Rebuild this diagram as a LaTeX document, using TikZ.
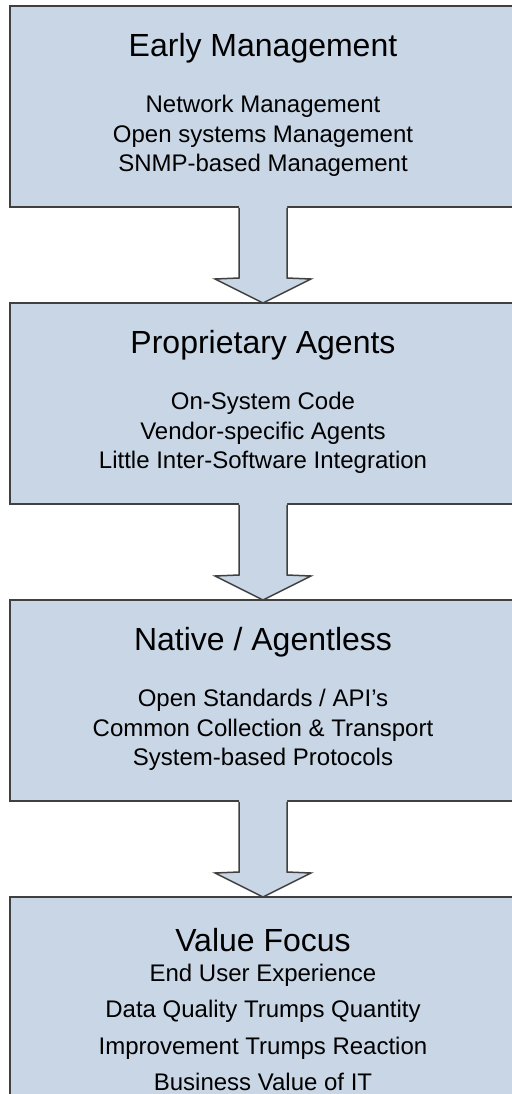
\documentclass[tikz,border=0pt]{standalone}
\usepackage{fontspec}
\setmainfont{Liberation Sans}
\usetikzlibrary{positioning,calc}

\definecolor{boxfill}{RGB}{201,214,229}
\definecolor{boxline}{RGB}{64,64,64}

\tikzset{
    stage/.style={draw=boxline,fill=boxfill,line width=1.5pt,minimum width=506pt,minimum height=201pt,inner sep=0pt,outer sep=0pt},
    stagetitle/.style={font=\fontsize{32}{38}\selectfont},
    stageitems/.style={align=center,font=\fontsize{24}{29.5}\selectfont},
}

\begin{document}
\begin{tikzpicture}[x=1pt,y=1pt]
    \useasboundingbox (0,0) rectangle (511,-1094);

    \node [stage] (b1) at (263,-106.5) {};
    \node [stage,below=96pt of b1] (b2) {};
    \node [stage,below=96pt of b2] (b3) {};
    \node [stage,below=96pt of b3] (b4) {};

    % block arrows between the stages
    \foreach \a/\b in {b1/b2,b2/b3,b3/b4}{
        \fill [boxfill] ($(\a.south)+(-24,1.5)$) -- ($(\a.south)+(-24,-71)$) -- ($(\b.north)+(-48,24)$) -- (\b.north)
            -- ($(\b.north)+(48,24)$) -- ($(\a.south)+(24,-71)$) -- ($(\a.south)+(24,1.5)$) -- cycle;
        \draw [boxline,line width=1.5pt] ($(\a.south)+(-24,-0.75)$) -- ($(\a.south)+(-24,-71)$) -- ($(\b.north)+(-48,24)$) -- (\b.north)
            -- ($(\b.north)+(48,24)$) -- ($(\a.south)+(24,-71)$) -- ($(\a.south)+(24,-0.75)$);
    }

    \node [stagetitle] (t1) at ($(b1.north)+(0,-42)$) {Early Management};
    \node [stageitems] (i1) at ($(b1.north)+(0,-130)$) {Network Management\\Open systems Management\\SNMP-based Management};

    \node [stagetitle] (t2) at ($(b2.north)+(0,-42)$) {Proprietary Agents};
    \node [stageitems] (i2) at ($(b2.north)+(0,-130)$) {On-System Code\\Vendor-specific Agents\\Little Inter-Software Integration};

    \node [stagetitle] (t3) at ($(b3.north)+(0,-42)$) {Native / Agentless};
    \node [stageitems] (i3) at ($(b3.north)+(0,-130)$) {Open Standards / API’s\\Common Collection \& Transport\\System-based Protocols};

    \node [stagetitle] (t4) at ($(b4.north)+(0,-43)$) {Value Focus};
    \node [stageitems,font=\fontsize{24}{36.5}\selectfont] (i4) at ($(b4.north)+(0,-130.5)$) {End User Experience\\Data Quality Trumps Quantity\\Improvement Trumps Reaction\\Business Value of IT};
\end{tikzpicture}
\end{document}
